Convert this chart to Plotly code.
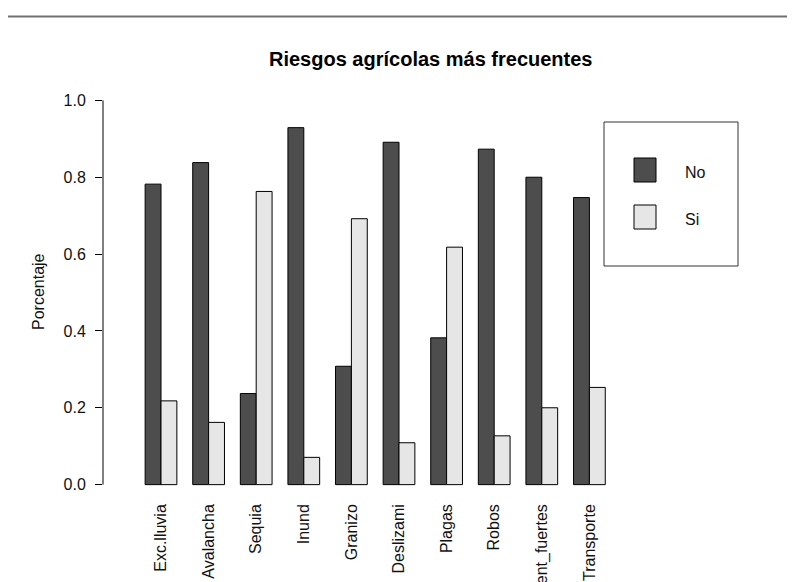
import plotly.graph_objects as go

categories = ["Exc.lluvia", "Avalancha", "Sequia", "Inund", "Granizo",
              "Deslizami", "Plagas", "Robos", "Vient_fuertes", "Transporte"]
no_values = [0.782, 0.838, 0.237, 0.929, 0.308, 0.891, 0.382, 0.873, 0.800, 0.747]
si_values = [0.218, 0.162, 0.763, 0.071, 0.692, 0.109, 0.618, 0.127, 0.200, 0.253]
series_names = ["No", "Si"]
y_ticks = [0.0, 0.2, 0.4, 0.6, 0.8, 1.0]
y_tick_labels = ["0.0", "0.2", "0.4", "0.6", "0.8", "1.0"]

DARK = "#4d4d4d"
LIGHT = "#e6e6e6"
FONT = "Liberation Sans, Arial, sans-serif"
TXT = "#111111"

# page body margin offset (the figure is drawn 8px right/down in the page)
OFF = 8
W, H = 795, 582
ML, MR, MT, MB = 103 - OFF, 45, 85 - OFF, 90
PW, PH = W - ML - MR, H - MT - MB


def pxx(x):
    return (x - OFF - ML) / PW


def pxy(y):
    return (H - MB - (y - OFF)) / PH


fig = go.Figure()
fig.add_trace(go.Bar(x=categories, y=no_values, name=series_names[0],
                     marker=dict(color=DARK, line=dict(color="#000000", width=1))))
fig.add_trace(go.Bar(x=categories, y=si_values, name=series_names[1],
                     marker=dict(color=LIGHT, line=dict(color="#000000", width=1))))

cat_step = 47.6
first_center = 161.0
x0 = -(first_center - 103) / cat_step
x1 = x0 + PW / cat_step

shapes = [
    dict(type="line", xref="paper", yref="y", x0=0, x1=0, y0=0, y1=1,
         line=dict(color="#000000", width=1)),
    dict(type="line", xref="paper", yref="paper", x0=pxx(7), x1=pxx(800),
         y0=pxy(16.5), y1=pxy(16.5), line=dict(color="#707070", width=2)),
    dict(type="rect", xref="paper", yref="paper", x0=pxx(604), x1=pxx(738),
         y0=pxy(266), y1=pxy(122), line=dict(color="#333333", width=1),
         fillcolor="rgba(0,0,0,0)"),
    dict(type="rect", xref="paper", yref="paper", x0=pxx(634), x1=pxx(656),
         y0=pxy(182), y1=pxy(158), line=dict(color="#000000", width=1),
         fillcolor=DARK),
    dict(type="rect", xref="paper", yref="paper", x0=pxx(634), x1=pxx(656),
         y0=pxy(229), y1=pxy(205), line=dict(color="#000000", width=1),
         fillcolor=LIGHT),
]

annotations = [
    dict(text="<b>Riesgos agrícolas más frecuentes</b>", xref="paper", yref="paper",
         x=pxx(430.5), y=pxy(59), xanchor="center", yanchor="middle",
         showarrow=False, font=dict(family=FONT, size=20, color="#000000")),
    dict(text="Porcentaje", xref="paper", yref="paper", x=pxx(38), y=pxy(292),
         xanchor="center", yanchor="middle", textangle=-90, showarrow=False,
         font=dict(family=FONT, size=16, color=TXT)),
    dict(text=series_names[0], xref="paper", yref="paper", x=pxx(683), y=pxy(172),
         xanchor="left", yanchor="middle", showarrow=False,
         font=dict(family=FONT, size=16, color=TXT)),
    dict(text=series_names[1], xref="paper", yref="paper", x=pxx(683), y=pxy(219),
         xanchor="left", yanchor="middle", showarrow=False,
         font=dict(family=FONT, size=16, color=TXT)),
]

fig.update_layout(
    width=W, height=H,
    margin=dict(l=ML, r=MR, t=MT, b=MB, autoexpand=False),
    paper_bgcolor="white", plot_bgcolor="white",
    barmode="group", bargap=1/3, bargroupgap=0,
    showlegend=False,
    shapes=shapes, annotations=annotations,
    font=dict(family=FONT, size=16, color=TXT),
)
fig.update_xaxes(type="category", range=[x0, x1], showgrid=False, zeroline=False,
                 showline=False, ticks="", tickangle=-90, automargin=False,
                 tickfont=dict(family=FONT, size=16, color=TXT))
fig.update_yaxes(range=[-0.04, 1.04], tickvals=y_ticks, ticktext=y_tick_labels,
                 showgrid=False, zeroline=False, showline=False, ticks="outside",
                 ticklen=7, tickwidth=1, tickcolor="#000000", ticklabelstandoff=6,
                 automargin=False, tickfont=dict(family=FONT, size=16, color=TXT))

fig.write_html("out.html")
